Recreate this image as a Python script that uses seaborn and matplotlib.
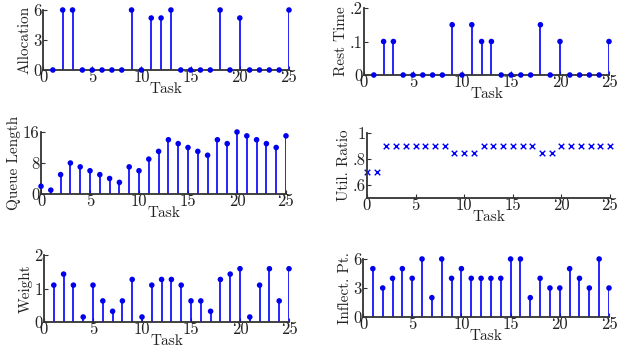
import numpy as np
import pandas as pd
import matplotlib
matplotlib.use("Agg")
import matplotlib.pyplot as plt
import seaborn as sns

# Data
task = list(range(0, 26))
task1 = list(range(1, 26))

allocation = [0, 6, 6, 0, 0, 0, 0, 0, 6, 0, 5.2, 5.2, 6, 0, 0, 0, 0, 6, 0, 5.2, 0, 0, 0, 0, 6]
rest_time = [0, .1, .1, 0, 0, 0, 0, 0, .15, 0, .15, .1, .1, 0, 0, 0, 0, .15, 0, .1, 0, 0, 0, 0, .1]
queue_length = [2, 1, 5, 8, 7, 6, 5, 4, 3, 7, 6, 9, 11, 14, 13, 12, 11, 10, 14, 13, 16, 15, 14, 13, 12, 15]
util_ratio = [.7, .7, .9, .9, .9, .9, .9, .9, .9, .85, .85, .85, .9, .9, .9, .9, .9, .9, .85, .85,
              .9, .9, .9, .9, .9, .9]
weight = [1.1, 1.43, 1.1, 0.15, 1.1, 0.63, 0.32, 0.63, 1.27, 0.15, 1.1, 1.27, 1.27, 1.1, 0.63, 0.63,
          0.32, 1.27, 1.43, 1.59, 0.15, 1.1, 1.59, 0.63, 1.59]
inflect_pt = [5, 3, 4, 5, 4, 6, 2, 6, 4, 5, 4, 4, 4, 4, 6, 6, 2, 4, 3, 3, 5, 4, 3, 6, 3]

sns.set_style("ticks")
plt.rcParams["font.family"] = ["cmr10", "DejaVu Serif"]
plt.rcParams["axes.formatter.use_mathtext"] = True

W, H = 634, 347
fig = plt.figure(figsize=(W / 100, H / 100), dpi=100)


def make_ax(left, right, top, bottom):
    return fig.add_axes([left / W, (H - bottom) / H, (right - left) / W, (bottom - top) / H])


def style(ax, ylabel, ylim, yticks, yticklabels):
    ax.set_xlim(0, 25)
    ax.set_ylim(*ylim)
    ax.set_xticks([0, 5, 10, 15, 20, 25])
    ax.set_xticklabels(["0", "5", "10", "15", "20", "25"])
    ax.set_yticks(yticks)
    ax.set_yticklabels(yticklabels)
    ax.tick_params(direction="in", length=3, width=0.8, labelsize=12, color="#333333",
                   labelcolor="#222222")
    ax.tick_params(axis="x", pad=0)
    ax.tick_params(axis="y", pad=1)
    for s in ["top", "right"]:
        ax.spines[s].set_visible(False)
    for s in ["left", "bottom"]:
        ax.spines[s].set_color("#333333")
        ax.spines[s].set_linewidth(1.3)
    ax.set_xlabel("Task", fontsize=11, labelpad=-2, color="#222222")
    ax.set_ylabel(ylabel, fontsize=11, labelpad=1, color="#222222")
    ax.set_facecolor("white")


def stems(ax, x, y):
    ax.vlines(x, 0, y, color="#0000ff", linewidth=1.2, zorder=2)
    df = pd.DataFrame({"Task": x, "v": y})
    sns.scatterplot(data=df, x="Task", y="v", ax=ax, color="#0000ee", s=16,
                    edgecolor="none", zorder=3, clip_on=False)


ax1 = make_ax(43, 289, 10, 70)
stems(ax1, task1, allocation)
style(ax1, "Allocation", (0, 6), [0, 3, 6], ["0", "3", "6"])

ax2 = make_ax(364, 609, 8, 75)
stems(ax2, task1, rest_time)
style(ax2, "Rest Time", (0, 0.2), [0, 0.1, 0.2], ["0", ".1", ".2"])

ax3 = make_ax(41, 286, 132, 194)
stems(ax3, task, queue_length)
style(ax3, "Queue Length", (0, 16), [0, 8, 16], ["0", "8", "16"])

ax4 = make_ax(367, 610, 133, 198)
sns.scatterplot(x=task, y=util_ratio, ax=ax4, marker="x", color="#0000ff", s=16,
                linewidth=1.0, clip_on=False)
style(ax4, "Util. Ratio", (0.5, 1.0), [0.6, 0.8, 1.0], [".6", ".8", "1"])

ax5 = make_ax(44, 289, 255, 322)
stems(ax5, task1, weight)
style(ax5, "Weight", (0, 2), [0, 1, 2], ["0", "1", "2"])

ax6 = make_ax(363, 609, 259, 317)
stems(ax6, task1, inflect_pt)
style(ax6, "Inflect. Pt.", (0, 6), [0, 3, 6], ["0", "3", "6"])

fig.savefig("out.png", dpi=100, facecolor="white")
